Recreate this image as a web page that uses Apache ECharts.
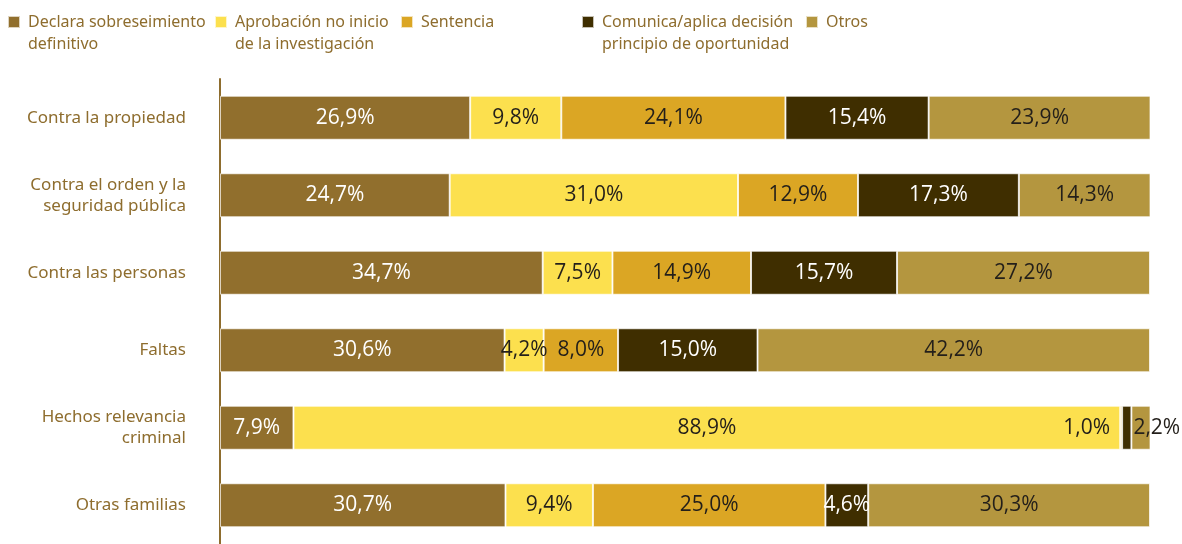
<!DOCTYPE html>
<html>
<head>
<meta charset="utf-8">
<script src="https://cdn.jsdelivr.net/npm/echarts@6/dist/echarts.min.js"></script>
<style>
  html, body { margin: 0; padding: 0; background: #fff; }
  #chart { width: 1182px; height: 544px; }
</style>
</head>
<body>
<div id="chart"></div>
<script>
  // categorías (de arriba a abajo)
  const categories = [
    'Contra la propiedad',
    'Contra el orden y la\nseguridad pública',
    'Contra las personas',
    'Faltas',
    'Hechos relevancia\ncriminal',
    'Otras familias'
  ]
  const seriesNames = [
    'Declara sobreseimiento definitivo',
    'Aprobación no inicio de la investigación',
    'Sentencia',
    'Comunica/aplica decisión principio de oportunidad',
    'Otros'
  ]
  const legendText = [
    'Declara sobreseimiento\ndefinitivo',
    'Aprobación no inicio\nde la investigación',
    'Sentencia',
    'Comunica/aplica decisión\nprincipio de oportunidad',
    'Otros'
  ]
  // porcentajes por serie
  const declara = [26.9, 24.7, 34.7, 30.6, 7.9, 30.7]
  const aprobacion = [9.8, 31.0, 7.5, 4.2, 88.9, 9.4]
  const sentencia = [24.1, 12.9, 14.9, 8.0, 0.2, 25.0]
  const comunica = [15.4, 17.3, 15.7, 15.0, 1.0, 4.6]
  const otros = [23.9, 14.3, 27.2, 42.2, 2.2, 30.3]

  const colors = ['#916F2D', '#FCE04E', '#DBA624', '#3F2E00', '#B4963F']
  const labelColors = ['#fff', '#231f1a', '#231f1a', '#fff', '#231f1a']
  const brown = '#8E6D2E'

  const chart = echarts.init(document.getElementById('chart'))

  const fmt = v => v.toFixed(1).replace('.', ',') + '%'

  function buildData (values, idx) {
    return values.map((v, i) => {
      const item = { value: v }
      if (v < 0.5) item.label = { show: false }
      // fila "Hechos relevancia criminal": etiquetas fuera de segmentos pequeños
      if (i === 4 && idx === 3) item.label = { position: 'left', distance: 12, color: '#231f1a' }
      if (i === 4 && idx === 4) item.label = { position: 'insideLeft', distance: 2 }
      return item
    })
  }

  const allValues = [declara, aprobacion, sentencia, comunica, otros]
  const series = allValues.map((vals, idx) => ({
    name: seriesNames[idx],
    type: 'bar',
    stack: 'total',
    barWidth: 44,
    itemStyle: { color: colors[idx], borderColor: 'rgba(255,255,255,0.7)', borderWidth: 1 },
    label: {
      show: true,
      position: 'inside',
      color: labelColors[idx],
      fontSize: 21,
      fontFamily: 'Open Sans',
      formatter: p => fmt(p.value)
    },
    data: buildData(vals, idx)
  }))

  const legendLeft = [7, 214, 400, 581, 805]
  const legends = seriesNames.map((name, idx) => {
    const twoLines = legendText[idx].indexOf('\n') >= 0
    return {
      data: [name],
      left: legendLeft[idx],
      top: twoLines ? -11 : 11,
      padding: 0,
      orient: 'horizontal',
      icon: 'rect',
      itemWidth: 12,
      itemHeight: 12,
      selectedMode: false,
      // línea vacía arriba para que el cuadro quede alineado con la primera línea
      formatter: () => twoLines ? '\n' + legendText[idx] : legendText[idx],
      textStyle: {
        color: brown,
        fontSize: 16,
        fontFamily: 'Noto Sans',
        lineHeight: 22,
        padding: [0, 0, 0, 3]
      }
    }
  })

  const option = {
    animation: false,
    color: colors,
    legend: legends,
    grid: { left: 220, right: 32, top: 79, height: 470, containLabel: false },
    xAxis: {
      type: 'value',
      min: 0,
      max: 100,
      show: false
    },
    yAxis: {
      type: 'category',
      inverse: true,
      data: categories,
      axisLine: { show: true, lineStyle: { color: brown, width: 2 } },
      axisTick: { show: false },
      axisLabel: {
        color: brown,
        fontSize: 17,
        fontFamily: 'Noto Sans',
        lineHeight: 21,
        margin: 34,
        align: 'right'
      }
    },
    series: series
  }

  chart.setOption(option)
</script>
</body>
</html>
